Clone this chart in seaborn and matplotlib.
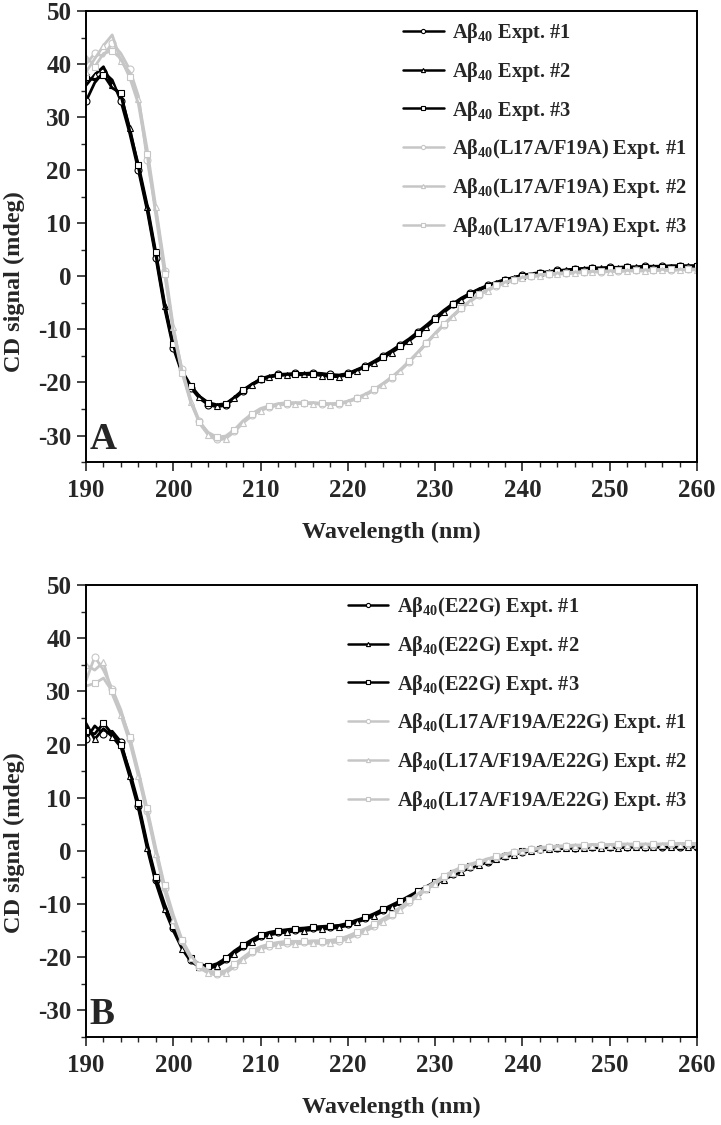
import numpy as np
import pandas as pd
import matplotlib
matplotlib.use("Agg")
import matplotlib.pyplot as plt
import seaborn as sns

# wavelength grid (nm)
wavelength = np.arange(190, 261)

# Panel A: Abeta40 (black) and Abeta40(L17A/F19A) (grey)
a_black_1 = [33.0, 36.5, 38.5, 37.0, 33.0, 27.0, 20.0, 12.5, 3.5, -6.0,
             -13.5, -18.3, -21.0, -23.0, -24.2, -24.6, -24.3, -23.1, -21.7, -20.4,
             -19.3, -18.8, -18.5, -18.4, -18.3, -18.3, -18.2, -18.3, -18.5, -18.6,
             -18.3, -17.6, -16.9, -16.0, -15.0, -14.0, -12.9, -11.8, -10.5, -9.2,
             -7.8, -6.4, -5.2, -4.1, -3.2, -2.4, -1.7, -1.1, -0.6, -0.2,
             0.2, 0.5, 0.7, 0.9, 1.1, 1.2, 1.4, 1.5, 1.6, 1.6,
             1.7, 1.7, 1.8, 1.8, 1.9, 1.9, 1.9, 2.0, 2.0, 2.0,
             2.0]
a_black_2 = [36.0, 38.0, 39.5, 36.0, 34.0, 28.0, 20.5, 13.0, 4.0, -5.5,
             -13.0, -18.0, -20.8, -22.7, -23.9, -24.4, -24.1, -22.9, -21.5, -20.5,
             -19.6, -19.0, -18.7, -18.6, -18.6, -18.5, -18.5, -18.7, -18.9, -18.9,
             -18.6, -17.8, -17.1, -16.3, -15.4, -14.4, -13.3, -12.2, -10.9, -9.6,
             -8.2, -6.8, -5.5, -4.4, -3.4, -2.6, -1.9, -1.3, -0.8, -0.3,
             0.0, 0.3, 0.6, 0.8, 1.0, 1.1, 1.2, 1.3, 1.4, 1.5,
             1.5, 1.6, 1.6, 1.7, 1.7, 1.7, 1.8, 1.8, 1.8, 1.9,
             1.9]
a_black_3 = [37.5, 37.0, 38.0, 35.5, 34.5, 27.5, 21.0, 13.5, 4.5, -5.0,
             -12.8, -17.8, -20.6, -22.6, -23.8, -24.2, -24.0, -22.8, -21.4, -20.3,
             -19.4, -18.9, -18.6, -18.5, -18.5, -18.4, -18.4, -18.5, -18.8, -18.7,
             -18.4, -17.7, -17.0, -16.2, -15.2, -14.2, -13.1, -12.0, -10.7, -9.4,
             -8.0, -6.6, -5.3, -4.2, -3.3, -2.5, -1.8, -1.2, -0.7, -0.2,
             0.1, 0.4, 0.6, 0.8, 1.0, 1.2, 1.3, 1.4, 1.5, 1.5,
             1.6, 1.6, 1.7, 1.7, 1.8, 1.8, 1.8, 1.9, 1.9, 1.9,
             2.0]
a_grey_1 = [40.0, 42.0, 41.5, 44.0, 42.0, 39.0, 34.0, 22.0, 12.5, 1.0,
            -10.0, -17.5, -23.2, -27.3, -29.6, -30.6, -30.4, -29.2, -27.5, -26.2,
            -25.2, -24.6, -24.2, -24.0, -23.9, -23.9, -23.9, -24.0, -24.1, -24.0,
            -23.6, -23.0, -22.3, -21.4, -20.3, -19.1, -17.7, -16.1, -14.4, -12.6,
            -10.8, -9.1, -7.5, -6.0, -4.7, -3.5, -2.6, -1.8, -1.2, -0.7,
            -0.3, 0.0, 0.2, 0.4, 0.5, 0.6, 0.7, 0.8, 0.9, 0.9,
            1.0, 1.0, 1.1, 1.1, 1.1, 1.2, 1.2, 1.2, 1.3, 1.3,
            1.3]
a_grey_2 = [38.5, 41.0, 43.5, 45.5, 40.5, 38.5, 33.5, 24.0, 13.0, 2.0,
            -9.5, -17.8, -23.6, -27.7, -29.9, -30.9, -30.6, -29.3, -27.6, -26.3,
            -25.3, -24.7, -24.3, -24.1, -24.0, -24.0, -24.0, -24.1, -24.2, -24.1,
            -23.7, -23.1, -22.4, -21.5, -20.4, -19.2, -17.8, -16.2, -14.5, -12.7,
            -10.9, -9.2, -7.6, -6.1, -4.8, -3.6, -2.7, -1.9, -1.3, -0.8,
            -0.4, -0.1, 0.1, 0.3, 0.4, 0.5, 0.6, 0.7, 0.8, 0.8,
            0.9, 0.9, 1.0, 1.0, 1.0, 1.1, 1.1, 1.1, 1.2, 1.2,
            1.2]
a_grey_3 = [41.5, 39.5, 42.0, 42.5, 41.0, 37.5, 32.5, 23.0, 11.5, 0.5,
            -10.5, -18.2, -23.8, -27.5, -29.4, -30.3, -30.1, -28.9, -27.2, -25.9,
            -24.9, -24.4, -24.0, -23.8, -23.8, -23.8, -23.8, -23.9, -24.0, -23.9,
            -23.5, -22.9, -22.2, -21.3, -20.2, -19.0, -17.6, -16.0, -14.3, -12.5,
            -10.7, -9.0, -7.4, -5.9, -4.6, -3.4, -2.5, -1.7, -1.1, -0.6,
            -0.2, 0.1, 0.3, 0.5, 0.6, 0.7, 0.8, 0.9, 0.9, 1.0,
            1.0, 1.1, 1.1, 1.2, 1.2, 1.2, 1.3, 1.3, 1.3, 1.3,
            1.4]

# Panel B: Abeta40(E22G) (black) and Abeta40(L17A/F19A/E22G) (grey)
b_black_1 = [21.0, 23.5, 22.0, 22.5, 20.5, 14.5, 8.5, 1.0, -5.5, -10.5,
             -14.5, -18.0, -20.5, -21.5, -21.9, -21.4, -20.4, -19.0, -17.9, -16.9,
             -16.0, -15.5, -15.2, -15.0, -14.8, -14.7, -14.5, -14.4, -14.3, -14.2,
             -13.8, -13.2, -12.7, -12.0, -11.2, -10.4, -9.6, -8.7, -7.8, -6.9,
             -6.0, -5.2, -4.4, -3.7, -3.0, -2.5, -2.0, -1.4, -1.0, -0.5,
             -0.2, 0.1, 0.3, 0.4, 0.5, 0.6, 0.6, 0.7, 0.7, 0.7,
             0.7, 0.7, 0.8, 0.8, 0.8, 0.8, 0.8, 0.8, 0.8, 0.8,
             0.8]
b_black_2 = [24.0, 21.0, 23.0, 21.5, 19.5, 14.0, 8.0, 0.5, -6.0, -11.0,
             -15.0, -18.4, -20.8, -21.8, -22.1, -21.7, -20.7, -19.3, -18.2, -17.2,
             -16.3, -15.8, -15.5, -15.3, -15.1, -15.0, -14.8, -14.7, -14.6, -14.4,
             -14.0, -13.4, -12.9, -12.2, -11.4, -10.6, -9.8, -8.9, -8.0, -7.1,
             -6.2, -5.4, -4.6, -3.9, -3.2, -2.7, -2.1, -1.6, -1.1, -0.7,
             -0.3, 0.0, 0.2, 0.3, 0.4, 0.5, 0.5, 0.6, 0.6, 0.6,
             0.6, 0.6, 0.7, 0.7, 0.7, 0.7, 0.7, 0.7, 0.7, 0.7,
             0.7]
b_black_3 = [22.5, 22.0, 24.0, 22.0, 20.0, 15.0, 9.0, 1.5, -5.0, -10.0,
             -14.2, -17.7, -20.2, -21.3, -21.7, -21.2, -20.2, -18.8, -17.7, -16.7,
             -15.8, -15.3, -15.0, -14.8, -14.6, -14.5, -14.3, -14.2, -14.1, -14.0,
             -13.6, -13.0, -12.5, -11.8, -11.0, -10.2, -9.4, -8.5, -7.6, -6.7,
             -5.8, -5.0, -4.2, -3.5, -2.9, -2.4, -1.9, -1.3, -0.9, -0.4,
             -0.1, 0.2, 0.3, 0.4, 0.5, 0.6, 0.6, 0.7, 0.7, 0.7,
             0.7, 0.8, 0.8, 0.8, 0.8, 0.8, 0.9, 0.9, 0.9, 0.9,
             0.9]
b_grey_1 = [32.0, 36.5, 34.0, 30.5, 26.5, 21.0, 14.5, 7.5, 0.0, -7.0,
            -12.5, -17.0, -20.0, -21.8, -22.8, -23.2, -22.8, -21.6, -20.3, -19.1,
            -18.3, -17.8, -17.5, -17.3, -17.3, -17.2, -17.2, -17.2, -17.1, -16.9,
            -16.3, -15.6, -14.9, -14.1, -13.1, -12.1, -10.9, -9.6, -8.3, -7.1,
            -6.0, -4.9, -4.0, -3.3, -2.7, -2.1, -1.6, -1.1, -0.7, -0.3,
            0.0, 0.3, 0.5, 0.7, 0.8, 0.9, 1.0, 1.0, 1.1, 1.1,
            1.1, 1.2, 1.2, 1.2, 1.2, 1.2, 1.2, 1.3, 1.3, 1.3,
            1.3]
b_grey_2 = [35.0, 34.0, 35.5, 29.5, 25.5, 20.5, 14.0, 7.0, -0.5, -7.5,
            -13.0, -17.3, -20.2, -22.0, -23.0, -23.4, -23.0, -21.8, -20.5, -19.3,
            -18.5, -18.0, -17.7, -17.5, -17.5, -17.4, -17.4, -17.4, -17.3, -17.1,
            -16.5, -15.8, -15.1, -14.3, -13.3, -12.3, -11.1, -9.8, -8.5, -7.3,
            -6.2, -5.1, -4.2, -3.4, -2.8, -2.2, -1.7, -1.2, -0.8, -0.4,
            -0.1, 0.2, 0.4, 0.6, 0.7, 0.8, 0.9, 0.9, 1.0, 1.0,
            1.0, 1.1, 1.1, 1.1, 1.1, 1.1, 1.2, 1.2, 1.2, 1.2,
            1.2]
b_grey_3 = [31.0, 31.5, 32.5, 30.0, 26.0, 21.5, 15.0, 8.0, 0.5, -6.5,
            -12.0, -16.7, -19.7, -21.5, -22.5, -22.9, -22.5, -21.3, -20.0, -18.8,
            -18.0, -17.5, -17.2, -17.0, -17.0, -17.0, -16.9, -16.9, -16.8, -16.6,
            -16.0, -15.3, -14.6, -13.8, -12.8, -11.8, -10.6, -9.3, -8.1, -6.9,
            -5.8, -4.7, -3.8, -3.1, -2.5, -2.0, -1.5, -1.0, -0.6, -0.2,
            0.1, 0.4, 0.6, 0.8, 0.9, 1.0, 1.1, 1.1, 1.2, 1.2,
            1.2, 1.3, 1.3, 1.3, 1.3, 1.3, 1.3, 1.4, 1.4, 1.4,
            1.4]

AB = "A\u03b2$_{40}$"
labels_a = [AB + " Expt. #1", AB + " Expt. #2", AB + " Expt. #3",
            AB + "(L17A/F19A) Expt. #1", AB + "(L17A/F19A) Expt. #2",
            AB + "(L17A/F19A) Expt. #3"]
labels_b = [AB + "(E22G) Expt. #1", AB + "(E22G) Expt. #2", AB + "(E22G) Expt. #3",
            AB + "(L17A/F19A/E22G) Expt. #1", AB + "(L17A/F19A/E22G) Expt. #2",
            AB + "(L17A/F19A/E22G) Expt. #3"]

BLACK = "#000000"
GREY = "#c6c6c6"
colors = [BLACK, BLACK, BLACK, GREY, GREY, GREY]
markers = ["o", "^", "s", "o", "^", "s"]
offsets = [0, 1, 0, 1, 0, 1]

sns.set_style("ticks")
plt.rcParams["font.family"] = ["Liberation Serif", "DejaVu Serif"]
plt.rcParams["font.weight"] = "bold"
plt.rcParams["axes.unicode_minus"] = False
plt.rcParams["mathtext.fontset"] = "custom"
plt.rcParams["mathtext.rm"] = "Liberation Serif:bold"
plt.rcParams["mathtext.bf"] = "Liberation Serif:bold"
plt.rcParams["mathtext.it"] = "Liberation Serif:bold"
plt.rcParams["mathtext.default"] = "bf"

FS = 18


def draw_panel(ax, series, labels, letter, ylab_y):
    for vals, lab, col, mk, off in zip(series, labels, colors, markers, offsets):
        df = pd.DataFrame({"wl": wavelength, "cd": vals})
        sns.lineplot(data=df, x="wl", y="cd", ax=ax, color=col, lw=2.0,
                     marker=mk, markersize=5, markerfacecolor="white",
                     markeredgecolor=col, markeredgewidth=0.8,
                     markevery=(off, 2), label=lab)

    ax.set_xlim(190, 260)
    ax.set_ylim(-35, 50)
    ax.set_xticks(np.arange(190, 261, 10))
    ax.set_xticks(np.arange(190, 261, 2), minor=True)
    ax.set_yticks(np.arange(-30, 51, 10))
    ax.set_yticks(np.arange(-35, 51, 5), minor=True)
    ax.tick_params(axis="both", which="major", direction="out", length=6.5,
                   width=1.2, labelsize=FS, pad=4, top=False, right=False)
    ax.tick_params(axis="both", which="minor", direction="out", length=3.6,
                   width=1.0, top=False, right=False)
    ax.tick_params(axis="x", which="major", pad=6)
    for lbl in ax.get_xticklabels() + ax.get_yticklabels():
        lbl.set_fontweight("bold")
    for sp in ax.spines.values():
        sp.set_visible(True)
        sp.set_linewidth(1.4)
        sp.set_color("black")

    ax.set_xlabel("Wavelength (nm)", fontsize=FS - 0.5, fontweight="bold")
    ax.set_ylabel("CD signal (mdeg)", fontsize=FS - 0.5, fontweight="bold")
    ax.xaxis.set_label_coords(0.5, -0.132)
    ax.yaxis.set_label_coords(-0.1, ylab_y)

    ax.text(0.006, 0.012, letter, transform=ax.transAxes, fontsize=27,
            fontweight="bold", ha="left", va="bottom")

    leg = ax.legend(loc="upper right", bbox_to_anchor=(1.0, 1.0), frameon=False,
                    fontsize=14.7, handlelength=2.0, handletextpad=0.4,
                    labelspacing=0.72, borderaxespad=0.2, borderpad=0.3)
    for h in leg.legend_handles:
        h.set_markersize(3)
        h.set_linewidth(1.8)
    for t in leg.get_texts():
        t.set_fontweight("bold")


fig = plt.figure(figsize=(7.21, 11.25), dpi=100)
ax_a = fig.add_axes([0.1193, 0.5893, 0.8474, 0.4009])
ax_b = fig.add_axes([0.1193, 0.0782, 0.8474, 0.4018])

draw_panel(ax_a, [a_black_1, a_black_2, a_black_3, a_grey_1, a_grey_2, a_grey_3],
           labels_a, "A", 0.40)
draw_panel(ax_b, [b_black_1, b_black_2, b_black_3, b_grey_1, b_grey_2, b_grey_3],
           labels_b, "B", 0.43)

fig.savefig("out.png", dpi=100)
